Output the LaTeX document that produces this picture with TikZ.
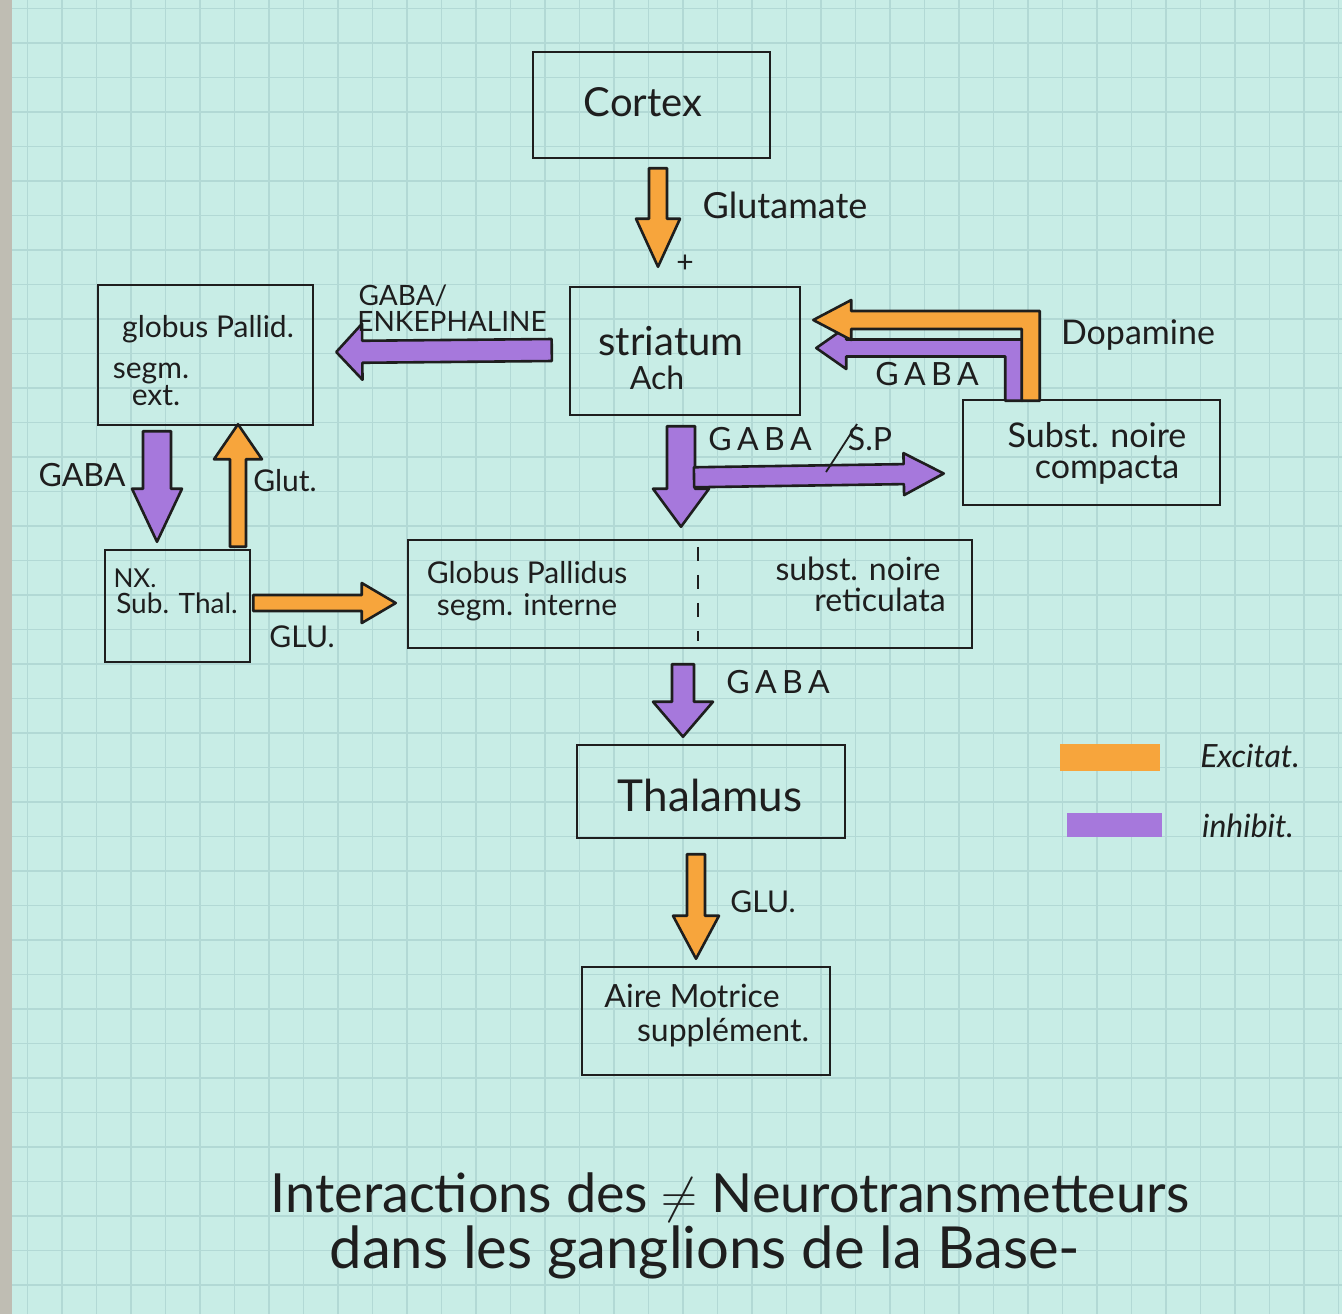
\documentclass[tikz,border=0pt]{standalone}
\usepackage{fontspec}
\setmainfont{Lato}
\usetikzlibrary{calc}

\definecolor{paper}{HTML}{C8EDE6}
\definecolor{gridc}{HTML}{B2D9D5}
\definecolor{edge}{HTML}{BFBDB3}
\definecolor{exc}{HTML}{F7A53C}
\definecolor{inh}{HTML}{A678DC}
\definecolor{ink}{HTML}{1E1E1E}

\tikzset{
  box/.style={draw=ink, line width=1.25pt, rectangle, inner sep=0pt},
  arrowline/.style={draw=ink, line width=1.3pt, line join=round},
  txt/.style={text=ink, inner sep=0pt, text height={0.76pt*#1}, text depth={0.1pt*#1},
    font=\fontsize{#1}{#1}\selectfont},
  txt/.default=16,
  itxt/.style={txt=#1, font=\fontsize{#1}{#1}\selectfont\itshape},
  bar/.style={rectangle, inner sep=0pt, draw=none},
}

% straight block arrow: fill, from, to, shaft half-width, head half-width, head length
\newcommand{\blockarrow}[6]{%
  \coordinate (ba-base) at ($(#3)!#6!(#2)$);
  \draw[arrowline, fill=#1]
    ($(#2)!#4!90:(#3)$) -- ($(ba-base)!#4!90:(#3)$) -- ($(ba-base)!#5!90:(#3)$)
    -- (#3) -- ($(ba-base)!#5!-90:(#3)$) -- ($(ba-base)!#4!-90:(#3)$)
    -- ($(#2)!#4!-90:(#3)$) -- cycle;}

% elbow block arrow going up from its start, then left to its tip
\newcommand{\elbowarrow}[6]{%
  \draw[arrowline, fill=#1]
    ($(#2)+(#4,0)$) -- ($(#2 |- #3)+(#4,-#4)$) -- ($(#3)+(#6,-#4)$)
    -- ($(#3)+(#6,-#5)$) -- (#3) -- ($(#3)+(#6,#5)$) -- ($(#3)+(#6,#4)$)
    -- ($(#2 |- #3)+(-#4,#4)$) -- ($(#2)+(-#4,0)$) -- cycle;}

\begin{document}
\begin{tikzpicture}[x=0.5pt, y=-0.5pt]
\useasboundingbox (0,0) rectangle (1342,1314);

% squared paper
\fill[paper] (0,0) rectangle (1342,1314);
\foreach \i in {0,...,38} {
  \draw[gridc, line width=0.6pt] ({27.5+34.5*\i},0) -- ({27.5+34.5*\i},1314);
  \draw[gridc, line width=0.6pt] (0,{8.5+34.5*\i}) -- (1342,{8.5+34.5*\i});
}
\fill[edge] (0,0) rectangle (12,1314);

% boxes
\node[box, minimum width=118.5pt, minimum height=53pt] (cortex) at (651.5,105) {};
\node[box, minimum width=115pt, minimum height=64pt] (striatum) at (685,351) {};
\node[box, minimum width=107.5pt, minimum height=70pt] (gpe) at (205.5,355) {};
\node[box, minimum width=128.5pt, minimum height=52.5pt] (snc) at (1091.5,452.5) {};
\node[box, minimum width=72.5pt, minimum height=56pt] (stn) at (177.5,606) {};
\node[box, minimum width=282pt, minimum height=54pt] (gpi) at (690,594) {};
\node[box, minimum width=134pt, minimum height=46.5pt] (thal) at (711,791.5) {};
\node[box, minimum width=124pt, minimum height=54pt] (sma) at (706,1021) {};

% box texts
\node[txt=20] (tcortex) at (643,103) {Cortex};
\node[txt=20] (tstr) at (671,342) {striatum};
\node[txt=16] (tach) at (657,379) {Ach};
\node[txt=15] (tgpe1) at (208,328) {globus Pallid.};
\node[txt=15] (tgpe2) at (151,369) {segm.};
\node[txt=15] (tgpe3) at (156,396) {ext.};
\node[txt=17] (tsnc1) at (1097,436) {Subst. noire};
\node[txt=17] (tsnc2) at (1107,467) {compacta};
\node[txt=13] (tstn1) at (135,579) {NX.};
\node[txt=14] (tstn2) at (177,604) {Sub. Thal.};
\node[txt=15] (tgpi1) at (527,574) {Globus Pallidus};
\node[txt=15] (tgpi2) at (527,606) {segm. interne};
\node[txt=16] (tsnr1) at (858,570) {subst. noire};
\node[txt=16] (tsnr2) at (880,601) {reticulata};
\coordinate (divtop) at ($(gpi.north)+(8,8)$);
\coordinate (divbot) at ($(gpi.south)+(8,-8)$);
\draw[ink, line width=1pt, dash pattern=on 7pt off 7pt] (divtop) -- (divbot);
\node[txt=22] (tthal) at (710,797) {Thalamus};
\node[txt=16] (tsma1) at (692,997) {Aire Motrice};
\node[txt=16] (tsma2) at (723,1031) {supplément.};

% arrow end points
\coordinate (a1s) at ($(cortex.south)+(6.5,9)$);
\coordinate (a1e) at ($(striatum.north)+(-27,-19)$);
\coordinate (a2s) at ($(striatum.west)+(-17,-1)$);
\coordinate (a2e) at ($(gpe.east)+(22,-3)$);
\coordinate (a3s) at ($(striatum.south)+(-4,10)$);
\coordinate (a3e) at ($(gpi.north)+(-9,-12)$);
\coordinate (a4s) at ($(striatum.south)+(9,61)$);
\coordinate (a4e) at ($(snc.west)+(-18,21)$);
\coordinate (a5s) at ($(gpe.south)+(-48.5,5)$);
\coordinate (a5e) at ($(stn.north)+(-20.5,-7)$);
\coordinate (a6s) at ($(stn.north)+(60.5,-2)$);
\coordinate (a6e) at ($(gpe.south)+(32.5,-2)$);
\coordinate (a7s) at ($(stn.east)+(2,-3)$);
\coordinate (a7e) at ($(gpi.west)+(-11,9)$);
\coordinate (a8s) at ($(gpi.south)+(-7,15)$);
\coordinate (a8e) at ($(thal.north)+(-28,-7)$);
\coordinate (a9s) at ($(thal.south)+(-15,15)$);
\coordinate (a9e) at ($(sma.north)+(-10,-7)$);
\coordinate (dops) at ($(snc.north west)+(69,2)$);
\coordinate (dope) at ($(striatum.east)+(12,-31)$);
\coordinate (gabs) at ($(snc.north west)+(52,2)$);
\coordinate (gabe) at ($(striatum.east)+(15,-3)$);

% connectors
\blockarrow{exc}{a1s}{a1e}{4.5pt}{11pt}{24pt}
\blockarrow{inh}{a2s}{a2e}{5.5pt}{14pt}{13pt}
\blockarrow{inh}{a3s}{a3e}{7pt}{14pt}{19pt}
\blockarrow{inh}{a4s}{a4e}{5pt}{10.5pt}{20pt}
\blockarrow{inh}{a5s}{a5e}{7pt}{12.5pt}{26.5pt}
\blockarrow{exc}{a6s}{a6e}{4pt}{12pt}{17.5pt}
\blockarrow{exc}{a7s}{a7e}{4pt}{10pt}{17pt}
\blockarrow{inh}{a8s}{a8e}{5.5pt}{15pt}{17.5pt}
\blockarrow{exc}{a9s}{a9e}{4.5pt}{11.5pt}{21.5pt}
\elbowarrow{inh}{gabs}{gabe}{8.5}{21}{30}
\elbowarrow{exc}{dops}{dope}{9}{20}{38}

% connector labels
\node[txt=18] (lglu) at (785,207) {Glutamate};
\node[txt=15] (lplus) at (685,263) {+};
\node[txt=14] (lgaba1) at (403,296) {GABA/};
\node[txt=14] (lenk) at (452,322) {ENKEPHALINE};
\node[txt=17] (ldopa) at (1138,333) {Dopamine};
\node[txt=16] (lgaba2) at (927,375) {G\,A\,B\,A};
\node[txt=16] (lgaba3) at (760,440) {G\,A\,B\,A};
\node[txt=16] (lsp) at (870,440) {S.P};
\coordinate (slashlo) at (826,472);
\coordinate (slashhi) at (857,424);
\draw[ink, line width=0.9pt] (slashlo) -- (slashhi);
\node[txt=16] (lgaba4) at (82,476) {GABA};
\node[txt=15] (lglut) at (285,482) {Glut.};
\node[txt=15] (lglu2) at (302,638) {GLU.};
\node[txt=16] (lgaba5) at (778,683) {G\,A\,B\,A};
\node[txt=15] (lglu3) at (763,903) {GLU.};

% legend
\node[bar, fill=exc, minimum width=50pt, minimum height=13.5pt] (legexc) at (1110,757) {};
\node[bar, fill=inh, minimum width=47.5pt, minimum height=12pt] (leginh) at (1114.5,825) {};
\node[itxt=16] (lexc) at (1250,757) {Excitat.};
\node[itxt=16] (linh) at (1248,827) {inhibit.};

% title
\node[txt=27] (title1) at (730,1195) {Interactions des $\neq$ Neurotransmetteurs};
\node[txt=29] (title2) at (705,1249) {dans les ganglions de la Base-};
\end{tikzpicture}
\end{document}
